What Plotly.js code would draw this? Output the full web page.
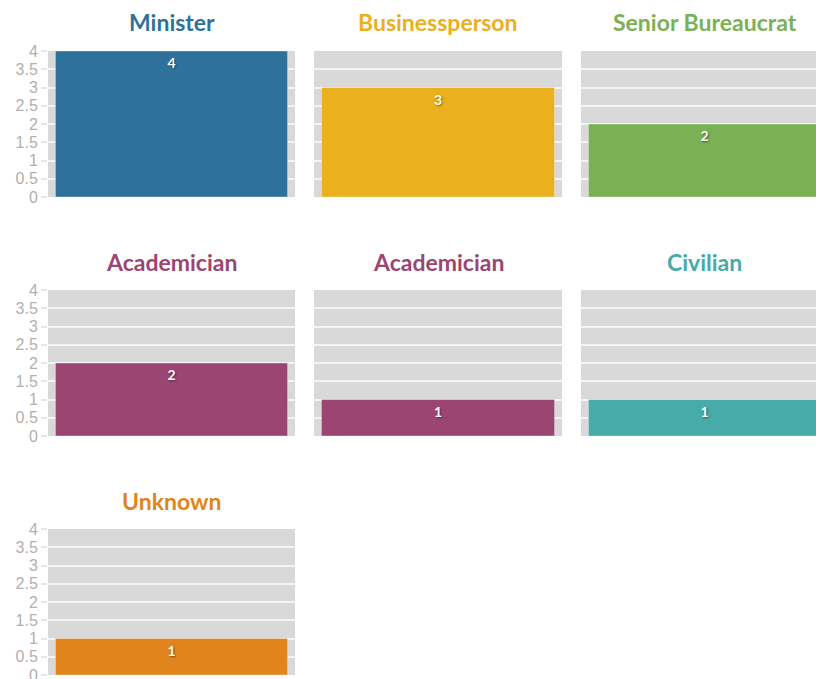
<!DOCTYPE html>
<html>
<head>
<meta charset="utf-8">
<script src="https://cdn.plot.ly/plotly-3.0.1.min.js"></script>
<style>
  html, body { margin: 0; padding: 0; overflow: hidden; background: #fff; }
  #chart { width: 830px; height: 690px; }
</style>
</head>
<body>
<div id="chart"></div>
<script>
// Panel data
const roles = ['Minister', 'Businessperson', 'Senior Bureaucrat', 'Academician', 'Academician', 'Civilian', 'Unknown'];
const counts = [4, 3, 2, 2, 1, 1, 1];
const roleColors = ['#2e729c', '#ebb01d', '#7ab155', '#9b4573', '#9b4573', '#46aba9', '#e1841b'];
const yTicks = [0, 0.5, 1, 1.5, 2, 2.5, 3, 3.5, 4];

const W = 830, H = 690;
// pixel boxes of the panels
const colX = [[48, 295], [314, 562], [581, 828]];
const rowY = [[51, 197], [290, 436], [529, 675]];
const titleY = [22, 262, 501];

let data = [];
let layout = {
    width: W,
    height: H,
    margin: { l: 0, r: 0, t: 0, b: 0 },
    paper_bgcolor: '#ffffff',
    plot_bgcolor: '#d9d9d9',
    showlegend: false,
    font: { family: 'Lato, sans-serif' },
    annotations: []
};

for (let i = 0; i < roles.length; i++) {
    const col = i % 3;
    const row = Math.floor(i / 3);
    const n = i + 1;
    const xa = n === 1 ? 'x' : 'x' + n;
    const ya = n === 1 ? 'y' : 'y' + n;

    data.push({
        type: 'bar',
        x: [roles[i]],
        y: [counts[i]],
        xaxis: xa,
        yaxis: ya,
        width: 0.94,
        marker: { color: roleColors[i], line: { color: 'rgba(255,255,255,0.35)', width: 1 } },
        text: [String(counts[i])],
        textposition: 'inside',
        insidetextanchor: 'end',
        textfont: { color: '#ffffff', size: 14, family: 'Lato, sans-serif', weight: 'bold', shadow: '1px 1px 2px rgba(0,0,0,0.45)' },
        hoverinfo: 'skip'
    });

    const xd = [colX[col][0] / W, colX[col][1] / W];
    const yd = [1 - rowY[row][1] / H, 1 - rowY[row][0] / H];

    layout['xaxis' + (n === 1 ? '' : n)] = {
        domain: xd,
        anchor: ya,
        range: [-0.5, 0.5],
        showticklabels: false,
        showgrid: false,
        zeroline: false,
        fixedrange: true
    };
    layout['yaxis' + (n === 1 ? '' : n)] = {
        domain: yd,
        anchor: xa,
        range: [0, 4],
        tickvals: yTicks,
        ticktext: yTicks.map(String),
        showticklabels: col === 0,
        ticks: col === 0 ? 'outside' : '',
        ticklen: 6,
        tickcolor: '#e6e6e6',
        tickwidth: 2,
        tickfont: { color: '#b0b0b0', size: 16, family: 'Liberation Sans, Arial, sans-serif' },
        gridcolor: '#f4f4f4',
        gridwidth: 2,
        zeroline: false,
        fixedrange: true
    };
    layout.annotations.push({
        text: '<b>' + roles[i] + '</b>',
        xref: 'paper', yref: 'paper',
        x: (xd[0] + xd[1]) / 2,
        y: 1 - titleY[row] / H,
        xanchor: 'center', yanchor: 'middle',
        showarrow: false,
        font: { size: 23, color: roleColors[i], family: 'Lato, sans-serif' }
    });
}

Plotly.newPlot('chart', data, layout, { displayModeBar: false, staticPlot: true });
</script>
</body>
</html>
